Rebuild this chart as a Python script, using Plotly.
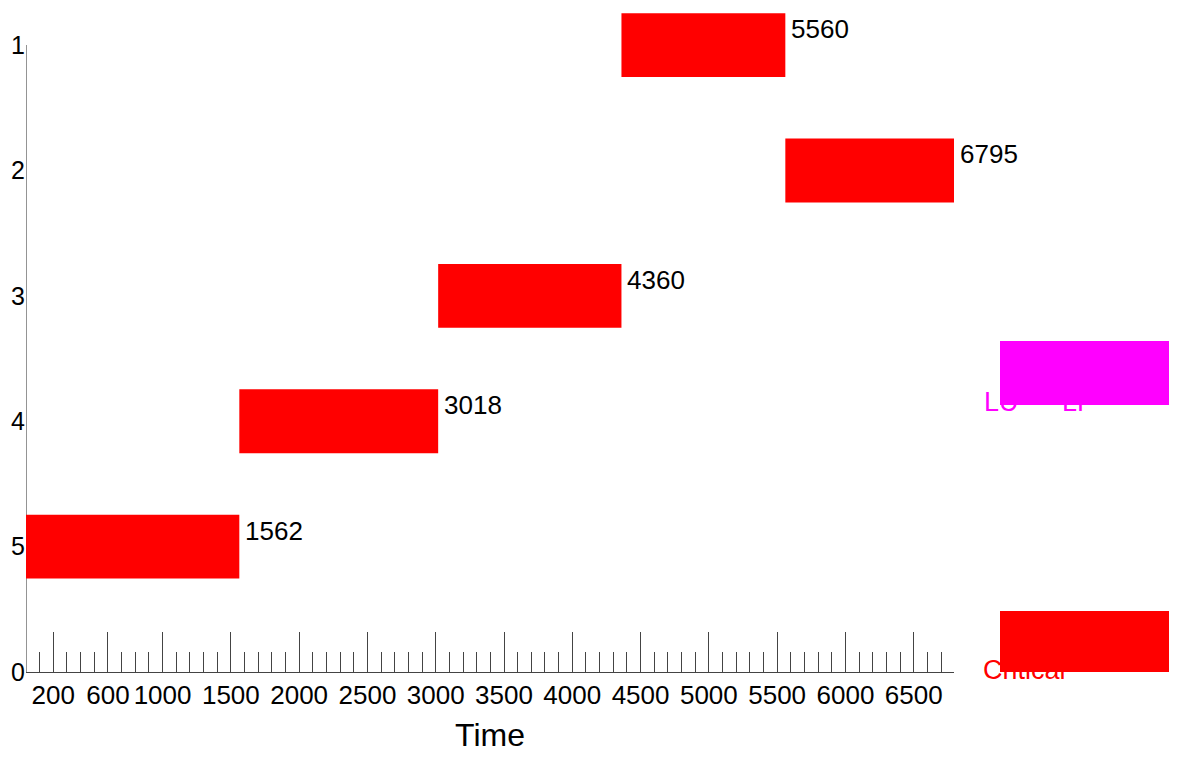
import plotly.graph_objects as go

# ---- data ----
tasks = ["1", "2", "3", "4", "5"]
starts = [4360, 5560, 3018, 1562, 0]
ends = [5560, 6795, 4360, 3018, 1562]
y_categories = ["0", "5", "4", "3", "2", "1"]
major_ticks = [200, 600, 1000, 1500, 2000, 2500, 3000, 3500, 4000, 4500, 5000, 5500, 6000, 6500]
legend_labels = ["Critical", "LU", "LF"]
legend_colors = ["#FF0000", "#FF00FF", "#FF00FF"]

durations = [e - s for s, e in zip(starts, ends)]
task_index = [y_categories.index(t) for t in tasks]

FONT = "Liberation Sans, Arial, sans-serif"
W, H = 1177, 761
OFF = 8  # page body margin
# plot area in page pixels
PX_L, PX_R, PX_T, PX_B = 26, 954, 10, 672
ML, MR = PX_L - OFF, 0
MT, MB = PX_T - OFF, H - (PX_B - OFF)
plot_w = W - ML - MR
main_dom = (PX_R - PX_L) / plot_w
leg_px_left = 976
leg_dom = (leg_px_left - PX_L) / plot_w

fig = go.Figure()

fig.add_trace(go.Bar(
    y=tasks, x=durations, base=starts, orientation="h",
    width=0.51,
    marker=dict(color="#FF0000", line=dict(width=0)),
    hoverinfo="skip", showlegend=False,
    xaxis="x", yaxis="y",
))

# end-value labels
for ti, e in zip(task_index, ends):
    fig.add_annotation(
        x=e, y=ti, xref="x", yref="y", text=str(e), showarrow=False,
        xanchor="left", yanchor="middle", xshift=4, yshift=16,
        font=dict(family=FONT, size=26, color="#000000"),
    )

# legend-like area on a separate hidden subplot (page-pixel units)
leg_x = [983, 984, 1062]
leg_y = [672, 404, 404]
fig.add_trace(go.Scatter(
    x=leg_x, y=leg_y, mode="text", text=legend_labels,
    textposition="middle right",
    textfont=dict(family=FONT, size=27, color=legend_colors),
    hoverinfo="skip", showlegend=False,
    xaxis="x2", yaxis="y2", cliponaxis=False,
))
leg_rects = [(1000, 1172, 611, 674, "#FF0000"), (1000, 1172, 341, 405, "#FF00FF")]
for x0, x1, y0, y1, c in leg_rects:
    fig.add_shape(type="rect", xref="x2", yref="y2", x0=x0, x1=x1, y0=y0, y1=y1,
                  fillcolor=c, line=dict(width=0), layer="above")

# y axis line (from category "0" to category "1")
fig.add_shape(type="line", xref="x", yref="y", x0=0, x1=0, y0=0, y1=5,
              line=dict(color="#707070", width=1.5), layer="below")

fig.update_layout(
    width=W, height=H,
    margin=dict(l=ML, r=MR, t=MT, b=MB, autoexpand=False),
    paper_bgcolor="white", plot_bgcolor="white",
    font=dict(family=FONT, size=26, color="#000000"),
    xaxis=dict(
        domain=[0, main_dom], range=[0, 6795], automargin=False,
        tickmode="array", tickvals=major_ticks, ticktext=[str(v) for v in major_ticks],
        ticks="inside", ticklen=40, tickwidth=1, tickcolor="#444444",
        minor=dict(tickmode="linear", tick0=0, dtick=100, ticks="inside",
                   ticklen=20, tickwidth=1, tickcolor="#444444", showgrid=False),
        showline=True, linecolor="#444444", linewidth=1,
        showgrid=False, zeroline=False,
        tickfont=dict(family=FONT, size=26, color="#000000"),
        title=dict(text="Time", font=dict(family=FONT, size=32, color="#000000"), standoff=14),
    ),
    yaxis=dict(
        type="category", categoryorder="array", categoryarray=y_categories,
        range=[0, 5.28], automargin=False,
        showline=False, showgrid=False, zeroline=False, ticks="",
        tickfont=dict(family=FONT, size=25, color="#000000"),
    ),
    xaxis2=dict(domain=[leg_dom, 1], range=[leg_px_left, leg_px_left + (1 - leg_dom) * plot_w],
                visible=False, anchor="y2"),
    yaxis2=dict(domain=[0, 1], range=[PX_B, PX_T], visible=False, anchor="x2"),
)

fig.write_html("out.html")
